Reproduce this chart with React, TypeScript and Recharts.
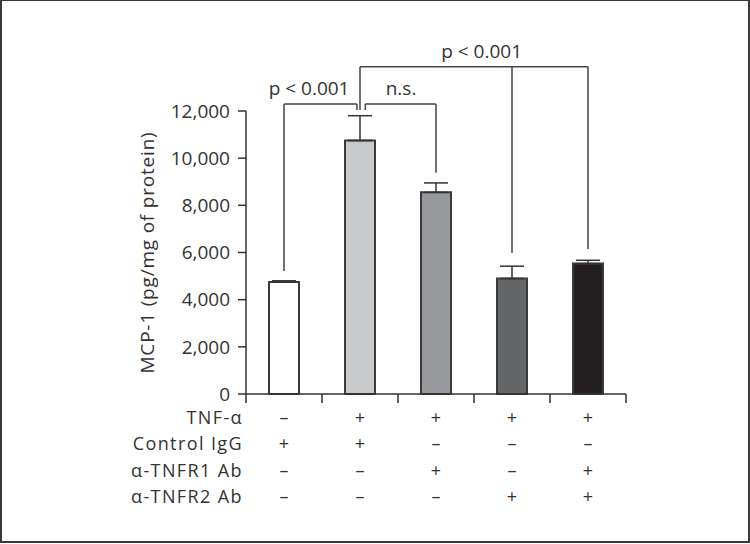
import {
  BarChart,
  Bar,
  Cell,
  XAxis,
  YAxis,
  ErrorBar,
  ReferenceLine,
  ReferenceDot,
} from "recharts";

// groups left to right
const groups = ["g1", "g2", "g3", "g4", "g5"];
const mcp1 = [4750, 10750, 8550, 4900, 5530];
const errUp = [50, 1050, 400, 520, 140];

const yTicks = [0, 2000, 4000, 6000, 8000, 10000, 12000];

// treatment table under the axis
const rowLabels = ["TNF-α", "Control IgG", "α-TNFR1 Ab", "α-TNFR2 Ab"];
const tnfAlpha = ["–", "+", "+", "+", "+"];
const controlIgG = ["+", "+", "–", "–", "–"];
const antiTnfr1 = ["–", "–", "+", "–", "+"];
const antiTnfr2 = ["–", "–", "–", "+", "+"];
const rows = [tnfAlpha, controlIgG, antiTnfr1, antiTnfr2];

// significance brackets, x in group units (0..5), y in pg/mg
const bracketPaths = [
  [[0.5, 5220], [0.5, 12300], [1.46, 12300], [1.46, 12040]],
  [[1.57, 12040], [1.57, 12300], [2.5, 12300], [2.5, 9380]],
  [[1.5, 12040], [1.5, 13880], [4.5, 13880], [4.5, 6150]],
  [[3.5, 13880], [3.5, 5980]],
];
const bracketLabels = ["p < 0.001", "n.s.", "p < 0.001"];
const bracketLabelX = [0.83, 2.04, 3.1];
const bracketLabelY = [12680, 12680, 14230];

const fills = ["#ffffff", "#c8c9cb", "#97989b", "#646567", "#231f20"];
const ink = "#333333";
const font = "'Open Sans', 'Noto Sans', sans-serif";
const PLOT_W = 380;
const HALF = PLOT_W / groups.length / 2;
const rowY = [23, 49, 75.5, 102];

const data = groups.map((g, i) => ({
  g,
  slot: i + 0.5,
  v: mcp1[i],
  err: [0, errUp[i]],
}));

function GroupTick(props: any) {
  const { x, y, payload } = props;
  const i = groups.indexOf(payload.value);
  return (
    <g>
      {i === 0 && (
        <line x1={x - HALF} x2={x - HALF} y1={y} y2={y + 9} stroke={ink} strokeWidth={1.5} />
      )}
      <line x1={x + HALF} x2={x + HALF} y1={y} y2={y + 9} stroke={ink} strokeWidth={1.5} />
      {rows.map((row, r) => (
        <text
          key={r}
          x={x}
          y={y + rowY[r]}
          textAnchor="middle"
          dominantBaseline="central"
          fontSize={18}
          fontFamily={font}
          fill={ink}
        >
          {row[i]}
        </text>
      ))}
      {i === 0 &&
        rowLabels.map((lab, r) => (
          <text
            key={"l" + r}
            x={x - HALF - 3}
            y={y + rowY[r]}
            textAnchor="end"
            dominantBaseline="central"
            fontSize={18}
            letterSpacing={1.4}
            fontFamily={font}
            fill={ink}
          >
            {lab}
          </text>
        ))}
    </g>
  );
}

export default function App() {
  const segments: any[] = [];
  bracketPaths.forEach((path, b) => {
    for (let k = 0; k < path.length - 1; k++) {
      segments.push(
        <ReferenceLine
          key={`b${b}-${k}`}
          xAxisId="num"
          ifOverflow="visible"
          segment={[
            { x: path[k][0], y: path[k][1] },
            { x: path[k + 1][0], y: path[k + 1][1] },
          ]}
          stroke="#444"
          strokeWidth={1.5}
        />
      );
    }
  });

  return (
    <div style={{ position: "absolute", left: 0, top: 0, width: 750, height: 544 }}>
      <div
        style={{
          position: "absolute",
          left: 0,
          top: 0,
          width: 750,
          height: 543,
          boxSizing: "border-box",
          border: "2px solid #3a3a3a",
          borderTopWidth: 1,
        }}
      />
      <BarChart
        width={750}
        height={544}
        data={data}
        margin={{ top: 111, right: 124, bottom: 0, left: 0 }}
      >
        <XAxis
          dataKey="g"
          height={150}
          axisLine={{ stroke: ink, strokeWidth: 1.5 }}
          tickLine={false}
          tickSize={0}
          tickMargin={0}
          tick={<GroupTick />}
          interval={0}
        />
        <XAxis
          xAxisId="num"
          dataKey="slot"
          type="number"
          domain={[0, 5]}
          allowDataOverflow
          hide
        />
        <YAxis
          width={246}
          domain={[0, 12000]}
          ticks={yTicks}
          interval={0}
          tickSize={8}
          tickMargin={8}
          axisLine={{ stroke: ink, strokeWidth: 1.5 }}
          tickLine={{ stroke: ink, strokeWidth: 1.5 }}
          tick={{ fill: ink, fontSize: 19, fontFamily: font }}
          tickFormatter={(v: number) => v.toLocaleString("en-US")}
          label={{
            value: "MCP-1 (pg/mg of protein)",
            angle: -90,
            position: "center",
            dx: 24,
            fill: ink,
            fontSize: 19,
            letterSpacing: 0.8,
            fontFamily: font,
          }}
        />
        <Bar dataKey="v" barSize={30} stroke="#3a3a3a" strokeWidth={2} isAnimationActive={false}>
          {data.map((d, i) => (
            <Cell key={d.g} fill={fills[i]} />
          ))}
          <ErrorBar dataKey="err" width={12} stroke={ink} strokeWidth={1.5} isAnimationActive={false} />
        </Bar>
        {segments}
        {bracketLabels.map((t, i) => (
          <ReferenceDot
            key={"t" + i}
            xAxisId="num"
            x={bracketLabelX[i]}
            y={bracketLabelY[i]}
            ifOverflow="visible"
            shape={(p: any) => (
              <text
                x={p.cx}
                y={p.cy}
                textAnchor="middle"
                fontSize={19}
                fontFamily={font}
                fill={ink}
              >
                {t}
              </text>
            )}
          />
        ))}
      </BarChart>
    </div>
  );
}
